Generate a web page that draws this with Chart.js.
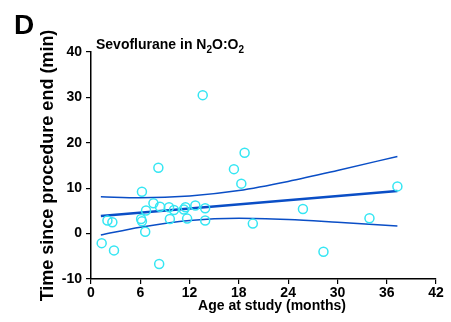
<!DOCTYPE html>
<html>
<head>
<meta charset="utf-8">
<script src="https://cdn.jsdelivr.net/npm/chart.js@4.4.0/dist/chart.umd.min.js"></script>
<style>
  body { margin: 0; background: #fff; }
  #wrap { width: 451px; height: 322px; }
</style>
</head>
<body>
<div id="wrap"><canvas id="sevoChart" width="451" height="322"></canvas></div>
<script>
// données
const ageMonths = [1.3, 2.0, 2.6, 2.8, 6.2, 6.1, 6.2, 6.6, 6.7, 7.6, 8.2, 8.4, 8.3, 9.5, 9.6, 10.1,
                   11.3, 11.5, 11.7, 12.7, 13.6, 13.9, 13.9, 17.4, 18.3, 18.7, 19.7, 25.8, 28.3, 33.9, 37.3];
const timeMin = [-2.1, 2.9, 2.5, -3.7, 9.2, 3.2, 2.7, 0.4, 5.1, 6.7, 14.5, 5.9, -6.7, 5.8, 3.2, 5.2,
                 5.3, 5.8, 3.3, 6.2, 30.5, 5.6, 2.9, 14.2, 11.0, 17.8, 2.2, 5.4, -4.0, 3.4, 10.4];

// droite de régression et bande de confiance
const fitAge = [1.2, 37.3];
const fitTime = [3.9, 9.4];
const bandAge = [1.2, 6, 12, 18, 24, 30, 37.3];
const bandUpper = [8.1, 7.9, 8.3, 9.5, 11.5, 13.9, 17.0];
const bandLower = [-0.3, 1.4, 2.9, 3.4, 3.1, 2.5, 1.7];

const xTicks = [0, 6, 12, 18, 24, 30, 36, 42];
const yTicks = [-10, 0, 10, 20, 30, 40];

const lineBlue = '#0a4ec6';
const cyan = '#35e6f3';
const fontFam = "'Liberation Sans', Arial, sans-serif";

function toXY(xs, ys) {
  return xs.map((x, i) => ({ x: x, y: ys[i] }));
}

// texte du panneau, titre avec indices, titre de l'axe x
const labelsPlugin = {
  id: 'panelLabels',
  afterDraw(chart) {
    const ctx = chart.ctx;
    ctx.save();
    ctx.fillStyle = '#000';
    ctx.textBaseline = 'alphabetic';
    ctx.font = 'bold 28px ' + fontFam;
    ctx.fillText('D', 14, 34);

    let x = 96;
    const y = 48.5;
    const parts = [['Sevoflurane in N', false], ['2', true], ['O:O', false], ['2', true]];
    parts.forEach(([txt, sub]) => {
      ctx.font = (sub ? 'bold 10px ' : 'bold 14px ') + fontFam;
      ctx.fillText(txt, x, sub ? y + 4 : y);
      x += ctx.measureText(txt).width;
    });

    ctx.font = 'bold 14px ' + fontFam;
    ctx.textAlign = 'center';
    ctx.textBaseline = 'middle';
    ctx.fillText('Age at study (months)', 272, 306);
    ctx.restore();
  }
};

document.addEventListener('DOMContentLoaded', function () {
  const ctx = document.getElementById('sevoChart').getContext('2d');
  new Chart(ctx, {
    type: 'scatter',
    data: {
      datasets: [
        {
          label: 'Patients',
          data: toXY(ageMonths, timeMin),
          pointStyle: 'circle',
          pointRadius: 4.5,
          pointBorderWidth: 1.5,
          borderColor: cyan,
          backgroundColor: 'rgba(0,0,0,0)'
        },
        {
          label: 'Régression',
          data: toXY(fitAge, fitTime),
          showLine: true,
          pointRadius: 0,
          borderColor: lineBlue,
          borderWidth: 2.5
        },
        {
          label: 'IC sup',
          data: toXY(bandAge, bandUpper),
          showLine: true,
          pointRadius: 0,
          cubicInterpolationMode: 'monotone',
          borderColor: lineBlue,
          borderWidth: 1.5
        },
        {
          label: 'IC inf',
          data: toXY(bandAge, bandLower),
          showLine: true,
          pointRadius: 0,
          cubicInterpolationMode: 'monotone',
          borderColor: lineBlue,
          borderWidth: 1.5
        }
      ]
    },
    options: {
      responsive: false,
      animation: false,
      layout: { padding: { top: 52, right: 15, left: 0, bottom: 0 } },
      plugins: {
        legend: { display: false },
        tooltip: { enabled: false }
      },
      scales: {
        x: {
          type: 'linear',
          min: 0,
          max: 42,
          afterBuildTicks: s => { s.ticks = xTicks.map(v => ({ value: v })); },
          afterFit: s => { s.height = 43; },
          grid: { drawOnChartArea: false, drawTicks: true, tickLength: 5, color: '#000', lineWidth: 1.2 },
          border: { color: '#000', width: 1.5 },
          ticks: { color: '#000', padding: 1, maxRotation: 0, font: { family: fontFam, size: 14, weight: 'bold' } }
        },
        y: {
          min: -10,
          max: 40,
          afterBuildTicks: s => { s.ticks = yTicks.map(v => ({ value: v })); },
          afterFit: s => { s.width = 91; },
          grid: { drawOnChartArea: false, drawTicks: true, tickLength: 5, color: '#000', lineWidth: 1.2 },
          border: { color: '#000', width: 1.5 },
          ticks: { color: '#000', padding: 4, font: { family: fontFam, size: 14, weight: 'bold' } },
          title: {
            display: true,
            text: 'Time since procedure end (min)',
            color: '#000',
            padding: { top: 37, bottom: 0 },
            font: { family: fontFam, size: 18, weight: 'bold' }
          }
        }
      }
    },
    plugins: [labelsPlugin]
  });
});
</script>
</body>
</html>
